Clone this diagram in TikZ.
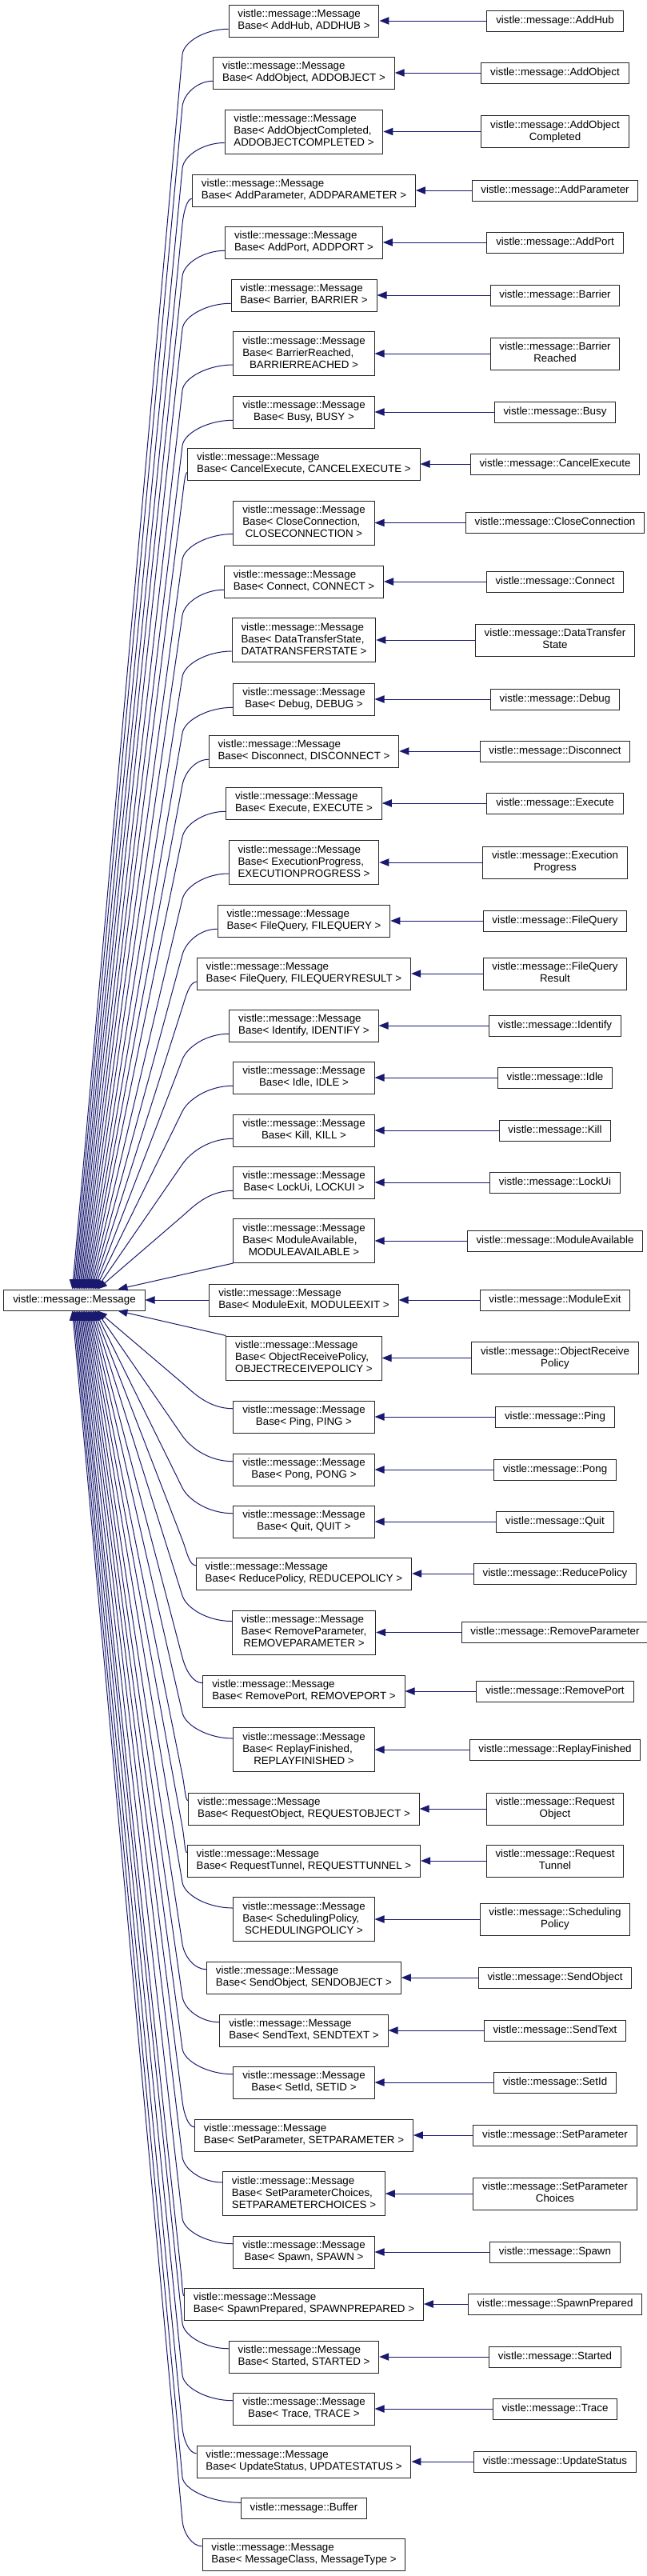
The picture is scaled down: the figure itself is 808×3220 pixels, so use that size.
\documentclass[tikz,border=0pt]{standalone}
\usepackage{fontspec}
\setmainfont{Liberation Sans}
\usetikzlibrary{arrows.meta, calc}
\definecolor{edgeblue}{RGB}{25,25,112}
% first lines left, last line centred (graphviz label style)
\newcommand{\boxlabel}[2]{\begin{tabular}{@{}l@{}}#1\\\multicolumn{1}{@{}c@{}}{#2}\end{tabular}}

\begin{document}
\begin{tikzpicture}[
  x=0.75pt, y=-0.75pt,
  box/.style = {draw=black!85, line width=0.75pt, fill=white, inner xsep=8.5pt, inner ysep=3.75pt, minimum height=19.5pt, font=\fontsize{10}{11.25}\selectfont},
  arrow/.style = {draw=edgeblue, line width=0.75pt, -{Triangle[length=9pt,width=7pt]}},
  bendup/.style = {to path={let \p1=(\tikztostart.west), \p2=(\tikztostart.south west), \p3=(\tikztotarget),
      \n1={min(\x1-3pt,171pt)}, \n2={(\y1+\y2)/2}, \n3={\n2-24pt} in
      (\x1,\n2) .. controls ({(\x1+\n1)/2},\n2) and ($(\n1,\n3)!-12pt!(\p3)$) .. (\n1,\n3) -- (\p3)}},
  benddown/.style = {to path={let \p1=(\tikztostart.west), \p2=(\tikztostart.north west), \p3=(\tikztotarget),
      \n1={min(\x1-3pt,171pt)}, \n2={(\y1+\y2)/2}, \n3={\n2+24pt} in
      (\x1,\n2) .. controls ({(\x1+\n1)/2},\n2) and ($(\n1,\n3)!-12pt!(\p3)$) .. (\n1,\n3) -- (\p3)}}
]
\useasboundingbox (0,0) rectangle (808,3220);

\node[box] (M) at (93,1625) {vistle::message::Message};

% base templates
\node[box] (bAddHub) at (380,26) {\boxlabel{vistle::message::Message}{Base< AddHub, ADDHUB >}};
\node[box] (bAddObject) at (380,91) {\boxlabel{vistle::message::Message}{Base< AddObject, ADDOBJECT >}};
\node[box] (bAddObjectCompleted) at (380,164.5) {\boxlabel{vistle::message::Message\\Base< AddObjectCompleted,}{ADDOBJECTCOMPLETED >}};
\node[box] (bAddParameter) at (380,238) {\boxlabel{vistle::message::Message}{Base< AddParameter, ADDPARAMETER >}};
\node[box] (bAddPort) at (380,303) {\boxlabel{vistle::message::Message}{Base< AddPort, ADDPORT >}};
\node[box] (bBarrier) at (380,369) {\boxlabel{vistle::message::Message}{Base< Barrier, BARRIER >}};
\node[box] (bBarrierReached) at (380,442) {\boxlabel{vistle::message::Message\\Base< BarrierReached,}{BARRIERREACHED >}};
\node[box] (bBusy) at (380,515) {\boxlabel{vistle::message::Message}{Base< Busy, BUSY >}};
\node[box] (bCancelExecute) at (380,580) {\boxlabel{vistle::message::Message}{Base< CancelExecute, CANCELEXECUTE >}};
\node[box] (bCloseConnection) at (380,653.5) {\boxlabel{vistle::message::Message\\Base< CloseConnection,}{CLOSECONNECTION >}};
\node[box] (bConnect) at (380,727) {\boxlabel{vistle::message::Message}{Base< Connect, CONNECT >}};
\node[box] (bDataTransferState) at (380,800) {\boxlabel{vistle::message::Message\\Base< DataTransferState,}{DATATRANSFERSTATE >}};
\node[box] (bDebug) at (380,874) {\boxlabel{vistle::message::Message}{Base< Debug, DEBUG >}};
\node[box] (bDisconnect) at (380,939) {\boxlabel{vistle::message::Message}{Base< Disconnect, DISCONNECT >}};
\node[box] (bExecute) at (380,1004) {\boxlabel{vistle::message::Message}{Base< Execute, EXECUTE >}};
\node[box] (bExecutionProgress) at (380,1078) {\boxlabel{vistle::message::Message\\Base< ExecutionProgress,}{EXECUTIONPROGRESS >}};
\node[box] (bFileQuery) at (380,1151) {\boxlabel{vistle::message::Message}{Base< FileQuery, FILEQUERY >}};
\node[box] (bFileQueryResult) at (380,1217) {\boxlabel{vistle::message::Message}{Base< FileQuery, FILEQUERYRESULT >}};
\node[box] (bIdentify) at (380,1282) {\boxlabel{vistle::message::Message}{Base< Identify, IDENTIFY >}};
\node[box] (bIdle) at (380,1347) {\boxlabel{vistle::message::Message}{Base< Idle, IDLE >}};
\node[box] (bKill) at (380,1413) {\boxlabel{vistle::message::Message}{Base< Kill, KILL >}};
\node[box] (bLockUi) at (380,1478) {\boxlabel{vistle::message::Message}{Base< LockUi, LOCKUI >}};
\node[box] (bModuleAvailable) at (380,1551) {\boxlabel{vistle::message::Message\\Base< ModuleAvailable,}{MODULEAVAILABLE >}};
\node[box] (bModuleExit) at (380,1625) {\boxlabel{vistle::message::Message}{Base< ModuleExit, MODULEEXIT >}};
\node[box] (bObjectReceivePolicy) at (380,1697.5) {\boxlabel{vistle::message::Message\\Base< ObjectReceivePolicy,}{OBJECTRECEIVEPOLICY >}};
\node[box] (bPing) at (380,1771) {\boxlabel{vistle::message::Message}{Base< Ping, PING >}};
\node[box] (bPong) at (380,1837) {\boxlabel{vistle::message::Message}{Base< Pong, PONG >}};
\node[box] (bQuit) at (380,1902) {\boxlabel{vistle::message::Message}{Base< Quit, QUIT >}};
\node[box] (bReducePolicy) at (380,1967) {\boxlabel{vistle::message::Message}{Base< ReducePolicy, REDUCEPOLICY >}};
\node[box] (bRemoveParameter) at (380,2040.5) {\boxlabel{vistle::message::Message\\Base< RemoveParameter,}{REMOVEPARAMETER >}};
\node[box] (bRemovePort) at (380,2114) {\boxlabel{vistle::message::Message}{Base< RemovePort, REMOVEPORT >}};
\node[box] (bReplayFinished) at (380,2187) {\boxlabel{vistle::message::Message\\Base< ReplayFinished,}{REPLAYFINISHED >}};
\node[box] (bRequestObject) at (380,2261) {\boxlabel{vistle::message::Message}{Base< RequestObject, REQUESTOBJECT >}};
\node[box] (bRequestTunnel) at (380,2326) {\boxlabel{vistle::message::Message}{Base< RequestTunnel, REQUESTTUNNEL >}};
\node[box] (bSchedulingPolicy) at (380,2399) {\boxlabel{vistle::message::Message\\Base< SchedulingPolicy,}{SCHEDULINGPOLICY >}};
\node[box] (bSendObject) at (380,2472) {\boxlabel{vistle::message::Message}{Base< SendObject, SENDOBJECT >}};
\node[box] (bSendText) at (380,2538) {\boxlabel{vistle::message::Message}{Base< SendText, SENDTEXT >}};
\node[box] (bSetId) at (380,2603) {\boxlabel{vistle::message::Message}{Base< SetId, SETID >}};
\node[box] (bSetParameter) at (380,2669) {\boxlabel{vistle::message::Message}{Base< SetParameter, SETPARAMETER >}};
\node[box] (bSetParameterChoices) at (380,2742) {\boxlabel{vistle::message::Message\\Base< SetParameterChoices,}{SETPARAMETERCHOICES >}};
\node[box] (bSpawn) at (380,2815) {\boxlabel{vistle::message::Message}{Base< Spawn, SPAWN >}};
\node[box] (bSpawnPrepared) at (380,2880) {\boxlabel{vistle::message::Message}{Base< SpawnPrepared, SPAWNPREPARED >}};
\node[box] (bStarted) at (380,2946) {\boxlabel{vistle::message::Message}{Base< Started, STARTED >}};
\node[box] (bTrace) at (380,3011) {\boxlabel{vistle::message::Message}{Base< Trace, TRACE >}};
\node[box] (bUpdateStatus) at (380,3077) {\boxlabel{vistle::message::Message}{Base< UpdateStatus, UPDATESTATUS >}};
\node[box] (bBuffer) at (380,3135) {vistle::message::Buffer};
\node[box] (bGeneric) at (380,3193) {\boxlabel{vistle::message::Message}{Base< MessageClass, MessageType >}};

% concrete messages
\node[box] (AddHub) at (694,26) {vistle::message::AddHub};
\node[box] (AddObject) at (694,91) {vistle::message::AddObject};
\node[box] (AddObjectCompleted) at (694,164.5) {\boxlabel{vistle::message::AddObject}{Completed}};
\node[box] (AddParameter) at (694,238) {vistle::message::AddParameter};
\node[box] (AddPort) at (694,303) {vistle::message::AddPort};
\node[box] (Barrier) at (694,369) {vistle::message::Barrier};
\node[box] (BarrierReached) at (694,442) {\boxlabel{vistle::message::Barrier}{Reached}};
\node[box] (Busy) at (694,515) {vistle::message::Busy};
\node[box] (CancelExecute) at (694,580) {vistle::message::CancelExecute};
\node[box] (CloseConnection) at (694,653.5) {vistle::message::CloseConnection};
\node[box] (Connect) at (694,727) {vistle::message::Connect};
\node[box] (DataTransferState) at (694,800) {\boxlabel{vistle::message::DataTransfer}{State}};
\node[box] (Debug) at (694,874) {vistle::message::Debug};
\node[box] (Disconnect) at (694,939) {vistle::message::Disconnect};
\node[box] (Execute) at (694,1004) {vistle::message::Execute};
\node[box] (ExecutionProgress) at (694,1078) {\boxlabel{vistle::message::Execution}{Progress}};
\node[box] (FileQuery) at (694,1151) {vistle::message::FileQuery};
\node[box] (FileQueryResult) at (694,1217) {\boxlabel{vistle::message::FileQuery}{Result}};
\node[box] (Identify) at (694,1282) {vistle::message::Identify};
\node[box] (Idle) at (694,1347) {vistle::message::Idle};
\node[box] (Kill) at (694,1413) {vistle::message::Kill};
\node[box] (LockUi) at (694,1478) {vistle::message::LockUi};
\node[box] (ModuleAvailable) at (694,1551) {vistle::message::ModuleAvailable};
\node[box] (ModuleExit) at (694,1625) {vistle::message::ModuleExit};
\node[box] (ObjectReceivePolicy) at (694,1697.5) {\boxlabel{vistle::message::ObjectReceive}{Policy}};
\node[box] (Ping) at (694,1771) {vistle::message::Ping};
\node[box] (Pong) at (694,1837) {vistle::message::Pong};
\node[box] (Quit) at (694,1902) {vistle::message::Quit};
\node[box] (ReducePolicy) at (694,1967) {vistle::message::ReducePolicy};
\node[box] (RemoveParameter) at (694,2040.5) {vistle::message::RemoveParameter};
\node[box] (RemovePort) at (694,2114) {vistle::message::RemovePort};
\node[box] (ReplayFinished) at (694,2187) {vistle::message::ReplayFinished};
\node[box] (RequestObject) at (694,2261) {\boxlabel{vistle::message::Request}{Object}};
\node[box] (RequestTunnel) at (694,2326) {\boxlabel{vistle::message::Request}{Tunnel}};
\node[box] (SchedulingPolicy) at (694,2399) {\boxlabel{vistle::message::Scheduling}{Policy}};
\node[box] (SendObject) at (694,2472) {vistle::message::SendObject};
\node[box] (SendText) at (694,2538) {vistle::message::SendText};
\node[box] (SetId) at (694,2603) {vistle::message::SetId};
\node[box] (SetParameter) at (694,2669) {vistle::message::SetParameter};
\node[box] (SetParameterChoices) at (694,2742) {\boxlabel{vistle::message::SetParameter}{Choices}};
\node[box] (Spawn) at (694,2815) {vistle::message::Spawn};
\node[box] (SpawnPrepared) at (694,2880) {vistle::message::SpawnPrepared};
\node[box] (Started) at (694,2946) {vistle::message::Started};
\node[box] (Trace) at (694,3011) {vistle::message::Trace};
\node[box] (UpdateStatus) at (694,3077) {vistle::message::UpdateStatus};

% concrete -> template
\foreach \n in {AddHub,AddObject,AddObjectCompleted,AddParameter,AddPort,Barrier,BarrierReached,Busy,
  CancelExecute,CloseConnection,Connect,DataTransferState,Debug,Disconnect,Execute,ExecutionProgress,
  FileQuery,FileQueryResult,Identify,Idle,Kill,LockUi,ModuleAvailable,ModuleExit,ObjectReceivePolicy,
  Ping,Pong,Quit,ReducePolicy,RemoveParameter,RemovePort,ReplayFinished,RequestObject,RequestTunnel,
  SchedulingPolicy,SendObject,SendText,SetId,SetParameter,SetParameterChoices,Spawn,SpawnPrepared,
  Started,Trace,UpdateStatus}
  \draw[arrow] (\n) -- (b\n);

% template -> Message
\foreach \n [count=\k] in {AddHub,AddObject,AddObjectCompleted,AddParameter,AddPort,Barrier,BarrierReached,
  Busy,CancelExecute,CloseConnection,Connect,DataTransferState,Debug,Disconnect,Execute,ExecutionProgress,
  FileQuery,FileQueryResult,Identify,Idle,Kill,LockUi}
  \draw[arrow, bendup] (b\n) to ($(M.north west)+({84.5+1.5*\k},0)$);
\foreach \n [count=\k] in {Ping,Pong,Quit,ReducePolicy,RemoveParameter,RemovePort,ReplayFinished,
  RequestObject,RequestTunnel,SchedulingPolicy,SendObject,SendText,SetId,SetParameter,SetParameterChoices,
  Spawn,SpawnPrepared,Started,Trace,UpdateStatus,Buffer,Generic}
  \draw[arrow, benddown] (b\n) to ($(M.south west)+({119-1.5*\k},0)$);
\draw[arrow] (bModuleAvailable.south west) -- ($(M.north west)+(143,0)$);
\draw[arrow] (bModuleExit) -- (M);
\draw[arrow] (bObjectReceivePolicy.north west) -- ($(M.south west)+(143,0)$);
\end{tikzpicture}
\end{document}
